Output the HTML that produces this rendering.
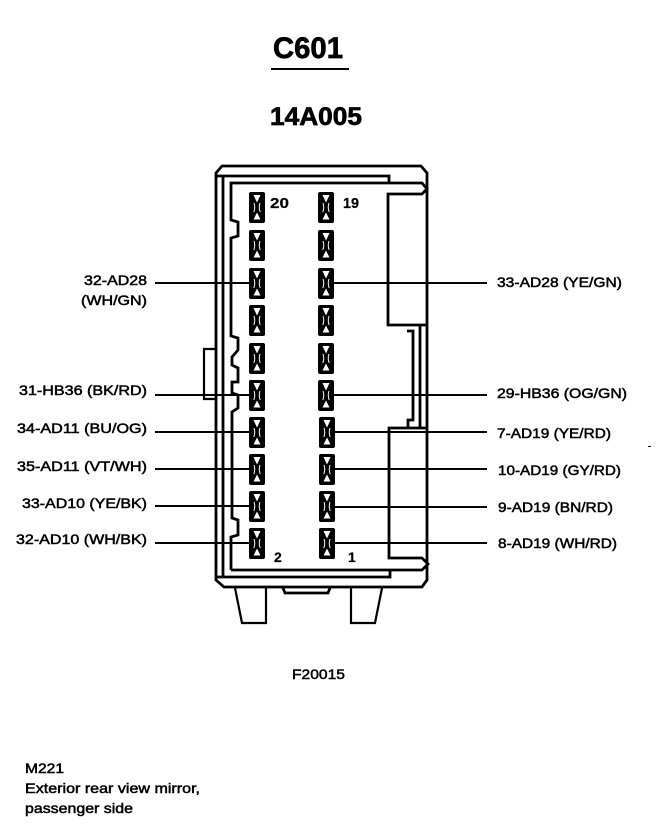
<!DOCTYPE html>
<html>
<head>
<meta charset="utf-8">
<style>
html,body{margin:0;padding:0;background:#fff;width:672px;height:838px;overflow:hidden}
svg{display:block}
text{font-family:"Liberation Sans",Arial,sans-serif;fill:#000;stroke:#000;stroke-width:.5}
.l{font-size:14px}
.n{font-weight:bold;stroke-width:.2}
.t{font-weight:bold;stroke-width:.7}
.w{fill:none;stroke:#000;stroke-width:2.8}
</style>
</head>
<body>
<svg width="672" height="838" viewBox="0 0 672 838" xmlns="http://www.w3.org/2000/svg">
<defs>
<g id="p">
<rect x="0" y="0" width="16" height="31" rx="2" fill="#000"/>
<path d="M4.5 3H11.5L8 10.5Z M4.5 27.5H11.5L8 20.5Z" fill="#fff"/>
<path d="M5 11Q6.6 15.5 4.8 20M11 11Q9.4 15.5 11.2 20" fill="none" stroke="#fff" stroke-width="1"/>
</g>
</defs>

<!-- Titles -->
<text class="t" x="273" y="58" font-size="30" textLength="70" lengthAdjust="spacingAndGlyphs">C601</text>
<rect x="271" y="68" width="78" height="2" fill="#000"/>
<text class="t" x="270" y="125" font-size="25" textLength="92" lengthAdjust="spacingAndGlyphs">14A005</text>

<!-- Feet -->
<path class="w" style="stroke-width:2.2" d="M235 588L242 623H266V588"/>
<path class="w" style="stroke-width:2.2" d="M351 588V623H375L382 588"/>
<path class="w" d="M283 588L285 593H328L330 588"/>

<!-- Housing -->
<path class="w" d="M216 578V173L222 166H421L427 173V580L422 587H224L216 580Z"/>
<path class="w" d="M216 577H390V570"/>
<path class="w" d="M223 176V577"/>
<path class="w" d="M216 176H389V183"/>
<path class="w" d="M231 570V537L238 535V520L232 518V412L238 408V395L232 393V382L238 382V368L232 365V357L238 350V338L231 336V238L238 236V222L231 220V183H422L427 189L422 194H388V325H427"/>
<path class="w" d="M231 570H422L428 564L422 558H389V428H427"/>
<path class="w" d="M420 325V428"/>
<path class="w" d="M407 331H413V420H408V428"/>
<path class="w" style="stroke-width:2.2" d="M216 349H204V399H216"/>

<!-- Wires -->
<g fill="#000">
<rect x="155" y="282" width="96" height="2"/>
<rect x="155" y="394" width="96" height="2"/>
<rect x="155" y="431" width="96" height="2"/>
<rect x="155" y="468" width="96" height="2"/>
<rect x="155" y="505" width="96" height="2"/>
<rect x="155" y="542" width="96" height="2"/>
<rect x="333" y="282" width="154" height="2"/>
<rect x="333" y="394" width="154" height="2"/>
<rect x="333" y="431" width="154" height="2"/>
<rect x="333" y="468" width="154" height="2"/>
<rect x="333" y="506" width="154" height="2"/>
<rect x="333" y="542" width="154" height="2"/>
<rect x="648" y="446" width="3" height="1"/>
</g>

<!-- Pins -->
<use href="#p" x="249" y="192"/><use href="#p" x="318" y="192"/>
<use href="#p" x="249" y="230"/><use href="#p" x="318" y="230"/>
<use href="#p" x="249" y="268"/><use href="#p" x="318" y="268"/>
<use href="#p" x="249" y="305"/><use href="#p" x="318" y="305"/>
<use href="#p" x="249" y="343"/><use href="#p" x="318" y="343"/>
<use href="#p" x="249" y="380"/><use href="#p" x="318" y="380"/>
<use href="#p" x="249" y="417"/><use href="#p" x="319" y="417"/>
<use href="#p" x="249" y="454"/><use href="#p" x="319" y="454"/>
<use href="#p" x="249" y="491"/><use href="#p" x="319" y="491"/>
<use href="#p" x="249" y="528"/><use href="#p" x="319" y="528"/>

<!-- Pin numbers -->
<text class="n" x="270" y="208" font-size="15" textLength="19" lengthAdjust="spacingAndGlyphs">20</text>
<text class="n" x="343" y="208" font-size="15" textLength="16" lengthAdjust="spacingAndGlyphs">19</text>
<text class="n" x="274" y="562" font-size="14">2</text>
<text class="n" x="348" y="562" font-size="14">1</text>

<!-- Left labels -->
<text class="l" x="84" y="285" textLength="63" lengthAdjust="spacingAndGlyphs">32-AD28</text>
<text class="l" x="81" y="305" textLength="66" lengthAdjust="spacingAndGlyphs">(WH/GN)</text>
<text class="l" x="19" y="395" textLength="128" lengthAdjust="spacingAndGlyphs">31-HB36 (BK/RD)</text>
<text class="l" x="17" y="433" textLength="130" lengthAdjust="spacingAndGlyphs">34-AD11 (BU/OG)</text>
<text class="l" x="17" y="471" textLength="130" lengthAdjust="spacingAndGlyphs">35-AD11 (VT/WH)</text>
<text class="l" x="22" y="508" textLength="125" lengthAdjust="spacingAndGlyphs">33-AD10 (YE/BK)</text>
<text class="l" x="16" y="544" textLength="131" lengthAdjust="spacingAndGlyphs">32-AD10 (WH/BK)</text>

<!-- Right labels -->
<text class="l" x="497" y="287" textLength="125" lengthAdjust="spacingAndGlyphs">33-AD28 (YE/GN)</text>
<text class="l" x="497" y="398" textLength="130" lengthAdjust="spacingAndGlyphs">29-HB36 (OG/GN)</text>
<text class="l" x="497" y="438" textLength="114" lengthAdjust="spacingAndGlyphs">7-AD19 (YE/RD)</text>
<text class="l" x="498" y="475" textLength="123" lengthAdjust="spacingAndGlyphs">10-AD19 (GY/RD)</text>
<text class="l" x="498" y="512" textLength="115" lengthAdjust="spacingAndGlyphs">9-AD19 (BN/RD)</text>
<text class="l" x="498" y="548" textLength="119" lengthAdjust="spacingAndGlyphs">8-AD19 (WH/RD)</text>

<!-- Footer -->
<text class="l" x="292" y="679" textLength="53" lengthAdjust="spacingAndGlyphs">F20015</text>
<text class="l" x="25" y="773" textLength="39" lengthAdjust="spacingAndGlyphs">M221</text>
<text class="l" x="25" y="793" textLength="175" lengthAdjust="spacingAndGlyphs">Exterior rear view mirror,</text>
<text class="l" x="25" y="813" textLength="108" lengthAdjust="spacingAndGlyphs">passenger side</text>
</svg>
</body>
</html>
